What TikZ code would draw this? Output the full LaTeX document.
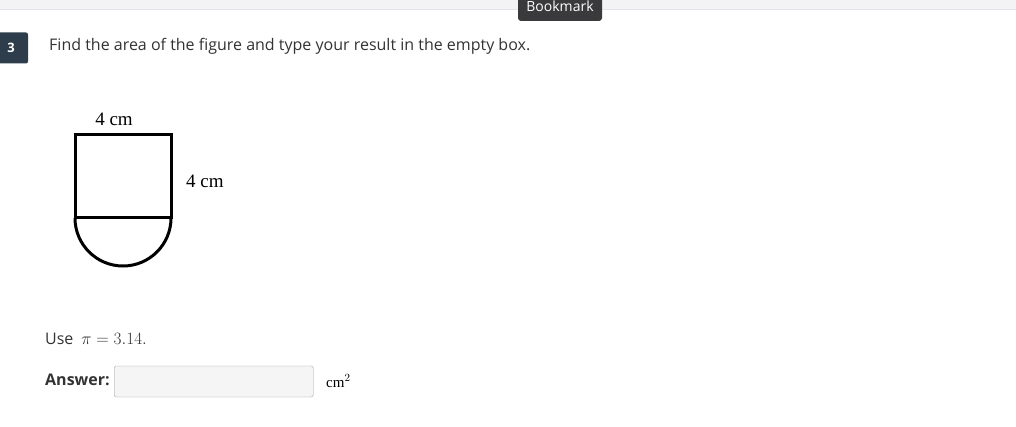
\documentclass[tikz,border=0pt]{standalone}
\usepackage{fontspec}
\setmainfont{Open Sans}
\newfontfamily\figfont{Liberation Serif}
\definecolor{barbg}{HTML}{F3F3F5}
\definecolor{barline}{HTML}{E4E4E8}
\definecolor{tipbg}{HTML}{3A3A3C}
\definecolor{badge}{HTML}{2E3D4B}
\definecolor{qtext}{HTML}{333333}
\definecolor{boxbg}{HTML}{F5F5F5}
\definecolor{boxline}{HTML}{9A9A9A}

\tikzset{
  plain/.style={inner sep=0pt, anchor=west, text=qtext, font=\fontsize{16}{19}\selectfont},
  figlabel/.style={inner sep=0pt, font=\figfont\fontsize{19}{22}\selectfont},
  shape line/.style={line width=3pt, line join=miter}
}

\begin{document}
\begin{tikzpicture}[x=1pt,y=-1pt]

      \useasboundingbox (0,0) rectangle (1016,427);

      % top bar and tooltip
      \fill[barbg] (0,0) rectangle (1016,9);
      \draw[barline] (0,9.5) -- (1016,9.5);
      \node[fill=tipbg, rounded corners=3pt, minimum width=84pt, minimum height=28pt,
            inner sep=0pt] (tip) at (560,7) {};
      \node[text=white, inner sep=0pt, font=\fontsize{14}{16}\selectfont] (bookmark) at (560,6) {Bookmark};

      % question number
      \node[fill=badge, rounded corners=2pt, minimum width=30pt, minimum height=31pt,
            inner sep=0pt] (badge) at (13,48) {};
      \node[text=white, inner sep=0pt, font=\bfseries\fontsize{13}{15}\selectfont] (num) at (11,48) {3};

      \node[plain] (question) at (49,46) {Find the area of the figure and type your result in the empty box.};

      % the figure
      \coordinate (tl) at (75,135);
      \coordinate (tr) at (171,135);
      \coordinate (bl) at (75,218);
      \coordinate (br) at (171,218);
      \draw[shape line] (tl) rectangle (br);
      \draw[shape line] (bl) arc[start angle=180, end angle=360, radius=48pt];

      \node[figlabel] (top) at (114,119) {4 cm};
      \node[figlabel, anchor=west] (side) at (186,181) {4 cm};

      % prompt and answer
      \node[plain] (use) at (45,339) {Use\enspace{}\figfont$\pi=3.14.$};
      \node[plain, font=\bfseries\fontsize{16}{19}\selectfont] (answer) at (45,380) {Answer:};
      \node[draw=boxline, fill=boxbg, rounded corners=1.5pt, minimum width=199pt,
            minimum height=31pt, inner sep=0pt, anchor=west] (box) at (114,381.5) {};
      \node[figlabel, anchor=west, font=\figfont\fontsize{15}{17}\selectfont] (unit) at (326,381) {cm$^2$};

\end{tikzpicture}
\end{document}
